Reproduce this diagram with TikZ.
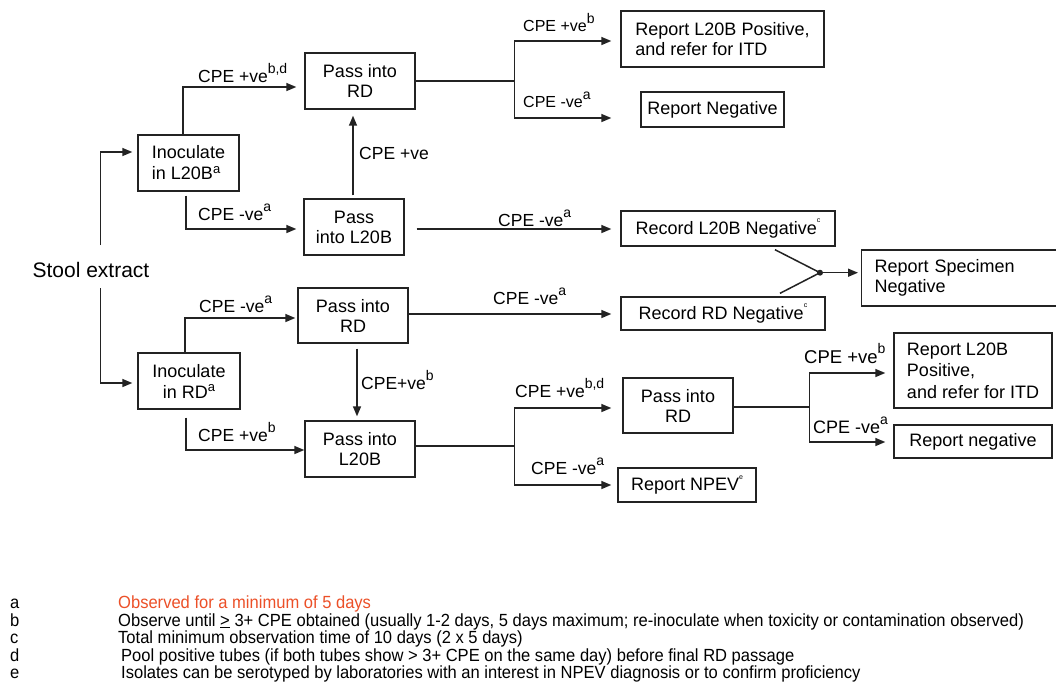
\documentclass[tikz,border=0pt]{standalone}
\usepackage{fontspec}
\setmainfont{Liberation Sans}
\newfontfamily\narrowfont{Liberation Sans}[FakeStretch=0.94]
\usetikzlibrary{arrows.meta,calc}
\definecolor{fnred}{RGB}{236,80,40}
\definecolor{edge}{RGB}{35,35,35}
\newcommand{\supa}[1]{\raisebox{0.5em}{\fontsize{14}{14}\selectfont #1}}
\newcommand{\supb}[1]{\raisebox{0.36em}{\fontsize{13}{13}\selectfont #1}}
\newcommand{\supt}[1]{\raisebox{0.62em}{\fontsize{7}{7}\selectfont #1}}
\tikzset{
  box/.style={draw=edge, line width=1.4pt, rectangle, inner sep=0pt, align=center,
    font=\fontsize{18}{20}\selectfont},
  lbl/.style={anchor=base west, inner sep=0pt, font=\fontsize{17.5}{20}\selectfont},
  fn/.style={anchor=base west, inner sep=0pt, font=\narrowfont\fontsize{17.6}{17.6}\selectfont},
  ln/.style={draw=edge, line width=1.5pt},
  arr/.style={draw=edge, line width=1.5pt, -{Triangle[length=10pt,width=8pt]}},
}
\begin{document}
\begin{tikzpicture}[x=1pt,y=-1pt]
\useasboundingbox (0,0) rectangle (1056,691);
\fill[white] (0,0) rectangle (1056,691);

% boxes
\node[box, minimum width=101pt, minimum height=56pt, align=left, font=\fontsize{18}{21}\selectfont] (inL) at (188.5,163) {Inoculate\\in L20B\supb{a}};
\node[box, minimum width=110pt, minimum height=56pt] (pRD1) at (360,81) {Pass into\\RD};
\node[box, minimum width=100pt, minimum height=56pt] (pL1) at (354,227) {Pass\\into L20B};
\node[box, minimum width=203pt, minimum height=56pt, align=left] (rP1) at (722.5,39) {Report L20B Positive,\\and refer for ITD};
\node[box, minimum width=143pt, minimum height=35pt] (rN1) at (712.5,109.5) {Report Negative};
\node[box, minimum width=214pt, minimum height=35pt] (recL) at (728,228.5) {Record L20B Negative\supt{c}};
\node[box, anchor=west, text width=173pt, inner xsep=13pt, minimum height=56pt, align=left] (rS) at (861,278) {Report Specimen\\Negative};
\node[box, minimum width=204pt, minimum height=33pt] (recR) at (723,313.5) {Record RD Negative\supt{c}};
\node[box, minimum width=102pt, minimum height=56pt, font=\fontsize{18}{21}\selectfont] (inR) at (189,381) {Inoculate\\in RD\supb{a}};
\node[box, minimum width=110pt, minimum height=55pt] (pRD2) at (353,315.5) {Pass into\\RD};
\node[box, minimum width=110pt, minimum height=56pt] (pL2) at (360,449) {Pass into\\L20B};
\node[box, minimum width=110pt, minimum height=55pt] (pRD3) at (678,405.5) {Pass into\\RD};
\node[box, minimum width=138pt, minimum height=34pt] (npev) at (687,485) {Report NPEV\supt{e}};
\node[box, minimum width=158pt, minimum height=75pt, align=left, font=\fontsize{18}{21.5}\selectfont] (rP2) at (973,370.5) {Report L20B\\Positive,\\and refer for ITD};
\node[box, minimum width=158pt, minimum height=33pt] (rN2) at (973,441.5) {Report negative};
\node[inner sep=0pt, font=\fontsize{21}{24}\selectfont] (stool) at (91,270) {Stool extract};

% connectors
\draw[arr] ([xshift=9.7pt,yshift=25pt]stool.center) |- ([xshift=-5pt,yshift=11pt]inL.west);
\draw[arr] ([xshift=9.7pt,yshift=-18pt]stool.center) |- ([xshift=-5pt,yshift=-2pt]inR.west);

\draw[arr] ([xshift=-5.5pt]inL.north) |- ([xshift=-8pt,yshift=-6pt]pRD1.west);
\draw[arr] ([xshift=-2.5pt,yshift=-4pt]inL.south) |- ([xshift=-7pt,yshift=-2pt]pL1.west);
\draw[arr, shorten >=6pt] ([xshift=-1pt,yshift=3pt]pL1.north) coordinate (u1) -- (u1 |- pRD1.south);

\draw[ln] (pRD1.east) -- ++(99,0) coordinate (j1);
\draw[arr] (j1) |- ([xshift=-9pt,yshift=-2pt]rP1.west);
\draw[arr] (j1) |- ([xshift=-29pt,yshift=-8.5pt]rN1.west);

\draw[arr, shorten >=9pt] ([xshift=12pt,yshift=-2pt]pL1.east) coordinate (a1) -- (a1 -| recL.west);

\coordinate (m) at ([xshift=92pt,yshift=-26pt]recL.south);
\draw[ln] ([xshift=47pt,yshift=-3pt]recL.south) -- (m);
\draw[ln] ([xshift=57pt,yshift=3pt]recR.north) -- (m);
\fill[edge] (m) circle (3pt);
\draw[arr, shorten >=3pt] (m) -- (m -| rS.west);

\draw[arr, shorten >=9pt] ([yshift=1.5pt]pRD2.east) coordinate (a2) -- (a2 -| recR.west);

\draw[arr] ([xshift=-4pt]inR.north) |- ([xshift=-2pt,yshift=-2.5pt]pRD2.west);
\draw[arr] ([xshift=-3pt,yshift=-8pt]inR.south) |- ([yshift=-1pt]pL2.west);
\draw[arr, shorten >=4pt] ([xshift=4pt,yshift=-5pt]pRD2.south) coordinate (d1) -- (d1 |- pL2.north);

\draw[ln] ([yshift=3pt]pL2.east) -- ++(99,0) coordinate (j2);
\draw[arr] (j2) |- ([xshift=-11pt,yshift=-2.5pt]pRD3.west);
\draw[arr] (j2) |- ([xshift=-6pt]npev.west);

\draw[ln] ([yshift=-1.5pt]pRD3.east) -- ++(76,0) coordinate (j3);
\draw[arr] (j3) |- ([xshift=-8pt,yshift=-2.5pt]rP2.west);
\draw[arr] (j3) |- ([xshift=-8pt,yshift=-0.5pt]rN2.west);

% labels
\node[lbl] (l1) at (198,82) {CPE +ve\supa{b,d}};
\node[lbl] (l2) at (198,220) {CPE -ve\supa{a}};
\node[lbl] (l3) at (359,159) {CPE +ve};
\node[lbl, font=\fontsize{16}{18}\selectfont] (l4) at (523,31) {CPE +ve\supa{b}};
\node[lbl, font=\fontsize{16}{18}\selectfont] (l5) at (523,107) {CPE -ve\supa{a}};
\node[lbl] (l6) at (498,226) {CPE -ve\supa{a}};
\node[lbl] (l7) at (493,304) {CPE -ve\supa{a}};
\node[lbl] (l8) at (199,312) {CPE -ve\supa{a}};
\node[lbl] (l9) at (361,389) {CPE+ve\supa{b}};
\node[lbl] (l10) at (198,441) {CPE +ve\supa{b}};
\node[lbl] (l11) at (515,397) {CPE +ve\supa{b,d}};
\node[lbl] (l12) at (531,474) {CPE -ve\supa{a}};
\node[lbl, font=\fontsize{18.5}{20}\selectfont] (l13) at (804,363) {CPE +ve\supa{b}};
\node[lbl, font=\fontsize{18}{20}\selectfont] (l14) at (813,433) {CPE -ve\supa{a}};

% footnotes
\node[fn] (fa) at (10,608) {a};
\node[fn] (fb) at (10,626) {b};
\node[fn] (fc) at (10,643) {c};
\node[fn] (fd) at (10,661) {d};
\node[fn] (fe) at (10,678) {e};
\node[fn, text=fnred] (ta) at (118,608) {Observed for a minimum of 5 days};
\node[fn] (tb) at (118,626) {Observe until \underline{>} 3+ CPE obtained (usually 1-2 days, 5 days maximum; re-inoculate when toxicity or contamination observed)};
\node[fn] (tc) at (118,643) {Total minimum observation time of 10 days (2 x 5 days)};
\node[fn] (td) at (121,661) {Pool positive tubes (if both tubes show > 3+ CPE on the same day) before final RD passage};
\node[fn] (te) at (121,678) {Isolates can be serotyped by laboratories with an interest in NPEV diagnosis or to confirm proficiency};
\end{tikzpicture}
\end{document}
